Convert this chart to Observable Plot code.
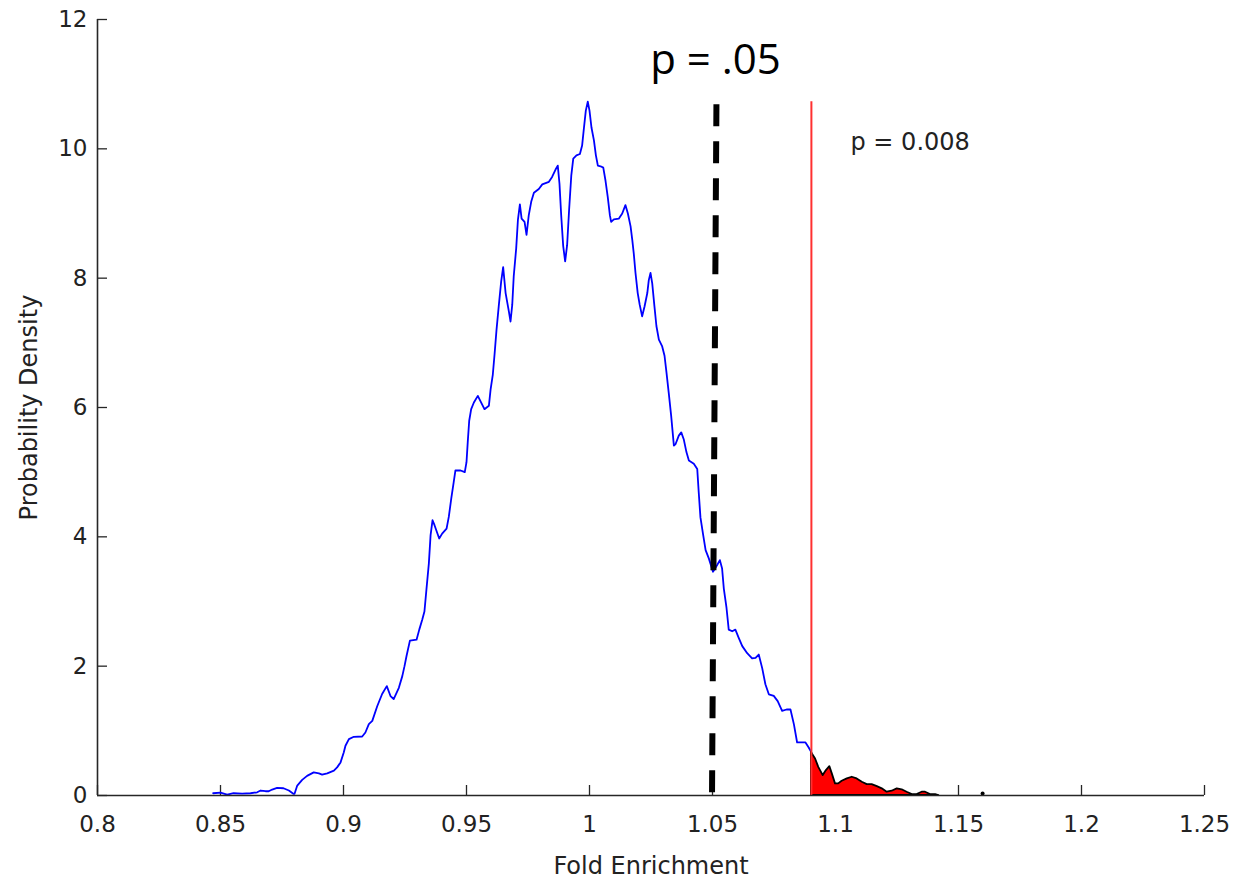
<!DOCTYPE html>
<html>
<head>
<meta charset="utf-8">
<script src="https://cdn.jsdelivr.net/npm/d3@7"></script>
<script src="https://cdn.jsdelivr.net/npm/@observablehq/plot@0.6"></script>
<style>
  html, body { margin: 0; padding: 0; background: #fff; }
  #chart { width: 1234px; height: 879px; }
</style>
</head>
<body>
<div id="chart"></div>
<script>
// ---- data ----
const xTicks = [0.8, 0.85, 0.9, 0.95, 1, 1.05, 1.1, 1.15, 1.2, 1.25];
const yTicks = [0, 2, 4, 6, 8, 10, 12];

const densityX = [0.8470,0.8500,0.8527,0.8553,0.8588,0.8622,0.8649,0.8663,0.8683,0.8696,
0.8710,0.8730,0.8756,0.8778,0.8796,0.8801,0.8812,0.8832,0.8852,0.8879,
0.8900,0.8913,0.8934,0.8961,0.8974,0.8988,0.9001,0.9008,0.9022,0.9042,
0.9076,0.9089,0.9103,0.9117,0.9137,0.9157,0.9176,0.9191,0.9204,0.9225,
0.9239,0.9248,0.9256,0.9270,0.9297,0.9308,0.9320,0.9329,0.9337,0.9347,
0.9354,0.9362,0.9370,0.9389,0.9401,0.9419,0.9428,0.9438,0.9448,0.9455,
0.9476,0.9493,0.9500,0.9505,0.9511,0.9519,0.9530,0.9546,0.9573,0.9591,
0.9598,0.9607,0.9614,0.9622,0.9631,0.9641,0.9649,0.9659,0.9672,0.9679,
0.9686,0.9692,0.9702,0.9709,0.9717,0.9724,0.9736,0.9744,0.9753,0.9763,
0.9774,0.9794,0.9808,0.9835,0.9848,0.9862,0.9871,0.9878,0.9885,0.9893,
0.9901,0.9909,0.9917,0.9926,0.9934,0.9947,0.9961,0.9970,0.9977,0.9985,
0.9993,1.0000,1.0008,1.0018,1.0026,1.0034,1.0045,1.0056,1.0065,1.0074,
1.0083,1.0088,1.0099,1.0119,1.0133,1.0146,1.0156,1.0167,1.0174,1.0180,
1.0187,1.0196,1.0204,1.0214,1.0224,1.0235,1.0241,1.0248,1.0255,1.0264,
1.0272,1.0282,1.0295,1.0305,1.0313,1.0322,1.0332,1.0343,1.0350,1.0363,
1.0373,1.0383,1.0394,1.0404,1.0424,1.0438,1.0444,1.0451,1.0462,1.0472,
1.0485,1.0502,1.0519,1.0530,1.0539,1.0546,1.0557,1.0566,1.0580,1.0593,
1.0607,1.0621,1.0641,1.0661,1.0675,1.0688,1.0702,1.0715,1.0729,1.0749,
1.0765,1.0783,1.0801,1.0817,1.0831,1.0844,1.0858,1.0878,1.0891,1.0902];

const densityY = [0.035,0.046,0.015,0.035,0.03,0.035,0.05,0.077,0.066,0.066,
0.092,0.118,0.112,0.077,0.026,0.026,0.154,0.242,0.303,0.358,
0.343,0.323,0.343,0.385,0.435,0.512,0.666,0.769,0.872,0.908,
0.912,0.974,1.103,1.154,1.38,1.57,1.692,1.538,1.492,1.666,
1.846,2.0,2.154,2.395,2.41,2.565,2.718,2.846,3.18,3.59,
4.026,4.257,4.18,3.974,4.05,4.128,4.308,4.59,4.846,5.026,
5.026,5.0,5.154,5.46,5.795,5.974,6.077,6.18,5.974,6.026,
6.28,6.51,6.82,7.2,7.565,7.95,8.17,7.77,7.49,7.33,
7.59,8.03,8.46,8.9,9.14,8.92,8.87,8.67,8.97,9.18,
9.32,9.38,9.45,9.49,9.565,9.68,9.74,9.46,8.97,8.5,
8.26,8.51,9.05,9.59,9.85,9.9,9.92,10.05,10.31,10.59,
10.73,10.59,10.33,10.13,9.9,9.74,9.73,9.71,9.51,9.26,
8.97,8.87,8.91,8.92,9.0,9.13,9.0,8.8,8.59,8.38,
8.08,7.77,7.59,7.41,7.565,7.77,7.97,8.08,7.92,7.565,
7.26,7.05,6.95,6.8,6.54,6.23,5.87,5.41,5.435,5.565,
5.615,5.51,5.31,5.18,5.13,5.05,4.69,4.3,4.03,3.795,
3.667,3.46,3.565,3.64,3.51,3.2,2.9,2.565,2.54,2.565,
2.435,2.31,2.2,2.12,2.13,2.18,1.97,1.72,1.565,1.54,
1.46,1.31,1.33,1.33,1.10,0.82,0.82,0.82,0.743,0.666];

const tailX = [1.0902,1.0919,1.0932,1.0950,1.0963,1.0977,1.0987,1.1000,1.1013,1.1027,
1.1048,1.1068,1.1088,1.1109,1.1129,1.1149,1.1170,1.1190,1.1210,1.1230,
1.1251,1.1271,1.1291,1.1312,1.1332,1.1352,1.1366,1.1386,1.1407,1.1420];
const tailY = [0.666,0.565,0.435,0.308,0.385,0.446,0.334,0.18,0.18,0.22,
0.257,0.282,0.257,0.205,0.169,0.169,0.138,0.103,0.051,0.066,
0.103,0.088,0.051,0.015,0.015,0.051,0.051,0.015,0.015,0];

const outlierX = [1.1598];
const outlierY = [0.03];

const observedValue = 1.0902;     // red line (p = 0.008)
const observedTop = 10.73;
const p05X = [1.0516, 1.0498];    // dashed threshold (top, bottom)
const p05Y = [10.69, 0];

const labelP05 = "p = .05";
const labelObs = "p = 0.008";
const xLabel = "Fold Enrichment";
const yLabel = "Probability Density";

// ---- tables built from the arrays ----
const density = densityX.map((x, i) => ({x, y: densityY[i]}));
const tail = tailX.map((x, i) => ({x, y: tailY[i]}));
const outliers = outlierX.map((x, i) => ({x, y: outlierY[i]}));
const thresholdLine = [{x1: p05X[0], y1: p05Y[0], x2: p05X[1], y2: p05Y[1]}];

const W = 1234, H = 879;
const mL = 97, mR = 30, mT = 19, mB = 84;
const plotW = W - mL - mR, plotH = H - mT - mB;
const axisColor = "#262626";

const chart = Plot.plot({
  width: W,
  height: H,
  marginLeft: mL,
  marginRight: mR,
  marginTop: mT,
  marginBottom: mB,
  style: {fontFamily: "'DejaVu Sans', sans-serif", fontSize: "23px", color: "#222", background: "#fff"},
  x: {domain: [0.8, 1.25]},
  y: {domain: [0, 12]},
  marks: [
    // inward tick marks
    Plot.ruleX(xTicks, {stroke: axisColor, strokeWidth: 1.3, insetTop: plotH - 10}),
    Plot.ruleY(yTicks, {stroke: axisColor, strokeWidth: 1.3, insetRight: plotW - 10}),
    // density curve
    Plot.line(density, {x: "x", y: "y", stroke: "#0000ff", strokeWidth: 1.8}),
    // shaded tail
    Plot.areaY(tail, {x: "x", y: "y", fill: "#ff0000", stroke: "#000", strokeWidth: 1.8, strokeLinejoin: "round"}),
    Plot.dot(outliers, {x: "x", y: "y", r: 2, fill: "#000", stroke: null}),
    // observed value line
    Plot.ruleX([observedValue], {y1: 0, y2: observedTop, stroke: "#ff3030", strokeWidth: 2}),
    // p = .05 threshold
    Plot.link(thresholdLine, {x1: "x1", y1: "y1", x2: "x2", y2: "y2", stroke: "#000", strokeWidth: 6, strokeDasharray: "22,15", strokeLinecap: "butt"}),
    // axis lines
    Plot.ruleY([0], {stroke: axisColor, strokeWidth: 1.6}),
    Plot.ruleX([0.8], {stroke: axisColor, strokeWidth: 1.6}),
    // tick labels
    Plot.axisX({ticks: xTicks, tickSize: 0, tickPadding: 20, tickFormat: d => String(d), label: null}),
    Plot.axisY({ticks: yTicks, tickSize: 0, tickPadding: 10, tickFormat: d => String(d), label: null}),
    // annotations
    Plot.text([labelP05], {x: 1.0512, y: 11.15, text: d => d, textAnchor: "middle", lineAnchor: "bottom",
      fontFamily: "'Open Sans', sans-serif", fontSize: 42, fill: "#000"}),
    Plot.text([labelObs], {x: 1.1061, y: 9.98, text: d => d, textAnchor: "start", lineAnchor: "bottom",
      fontSize: 24, fill: "#222"}),
    // axis titles
    Plot.text([xLabel], {frameAnchor: "bottom", dy: 78, text: d => d, textAnchor: "middle", lineAnchor: "bottom",
      fontSize: 24, fill: "#222"}),
    Plot.text([yLabel], {frameAnchor: "left", dx: -61, rotate: -90, text: d => d, textAnchor: "middle", lineAnchor: "bottom",
      fontSize: 24, fill: "#222"})
  ]
});

document.getElementById("chart").appendChild(chart);
</script>
</body>
</html>
